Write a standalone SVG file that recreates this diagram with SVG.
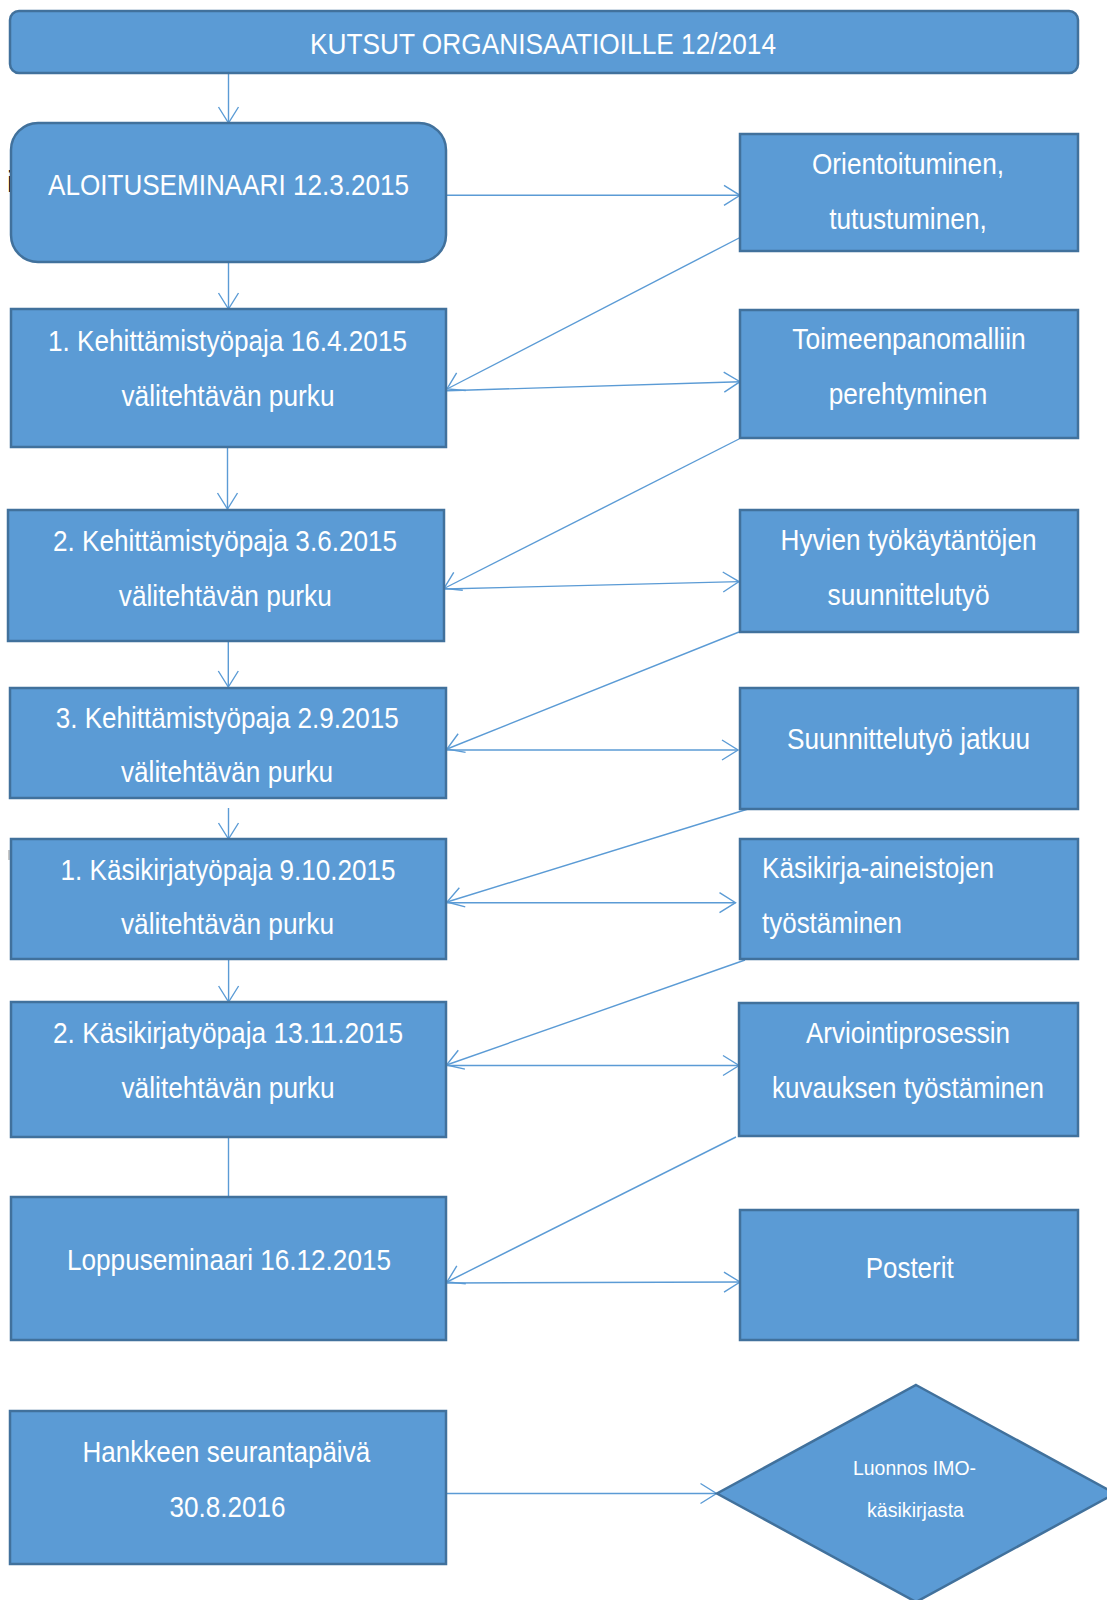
<svg xmlns="http://www.w3.org/2000/svg" width="1107" height="1600" viewBox="0 0 1107 1600">
<style>
.box{fill:#5B9BD5;stroke:#41719C;stroke-width:2.5}
.t{font-family:"Liberation Sans Narrow","Liberation Sans",Arial,sans-serif;font-size:30px;fill:#FFFFFF}
.m{text-anchor:middle}
.s{font-size:21px}
.c{fill:none;stroke:#5B9BD5;stroke-width:1.4}
</style>
<defs>
<marker id="arr" markerUnits="userSpaceOnUse" viewBox="-18 -12 20 24" refX="0" refY="0" markerWidth="20" markerHeight="24" orient="auto">
<path d="M-16,-10 L0,0 L-16,10" fill="none" stroke="#5B9BD5" stroke-width="1.4"/>
</marker>
</defs>
<rect width="1107" height="1600" fill="#FFFFFF"/>
<text x="7" y="192" style="font-family:'Liberation Sans',sans-serif;font-size:30px;fill:#000">i</text>
<rect x="8" y="850" width="3" height="10" fill="#C8C8C8"/>

<g id="connectors">
<line class="c" x1="228.5" y1="73.5" x2="228.5" y2="123" marker-end="url(#arr)"/>
<line class="c" x1="228.5" y1="262" x2="228.5" y2="309" marker-end="url(#arr)"/>
<line class="c" x1="227.5" y1="447" x2="227.5" y2="509" marker-end="url(#arr)"/>
<line class="c" x1="228.3" y1="641" x2="228.3" y2="687" marker-end="url(#arr)"/>
<line class="c" x1="228.5" y1="808" x2="228.5" y2="839" marker-end="url(#arr)"/>
<line class="c" x1="228.6" y1="959" x2="228.6" y2="1002" marker-end="url(#arr)"/>
<line class="c" x1="228.5" y1="1137" x2="228.5" y2="1197"/>
<line class="c" x1="447" y1="195.3" x2="740" y2="195.3" marker-end="url(#arr)"/>
<line class="c" x1="741" y1="237" x2="447" y2="389" marker-end="url(#arr)"/>
<line class="c" x1="447" y1="390.7" x2="740" y2="381.7" marker-end="url(#arr)"/>
<line class="c" x1="739" y1="439" x2="444" y2="588.5" marker-end="url(#arr)"/>
<line class="c" x1="444" y1="589" x2="739" y2="581.6" marker-end="url(#arr)"/>
<line class="c" x1="739" y1="632" x2="447" y2="749" marker-end="url(#arr)"/>
<line class="c" x1="447" y1="750" x2="738" y2="750" marker-end="url(#arr)"/>
<line class="c" x1="748" y1="809" x2="447" y2="902" marker-end="url(#arr)"/>
<line class="c" x1="447" y1="902.7" x2="735.5" y2="902.7" marker-end="url(#arr)"/>
<line class="c" x1="745" y1="960" x2="446.5" y2="1065" marker-end="url(#arr)"/>
<line class="c" x1="446.5" y1="1065.5" x2="739" y2="1065.5" marker-end="url(#arr)"/>
<line class="c" x1="736" y1="1137" x2="447" y2="1282" marker-end="url(#arr)"/>
<line class="c" x1="447" y1="1283" x2="740" y2="1282" marker-end="url(#arr)"/>
<line class="c" x1="446" y1="1493.5" x2="716.5" y2="1493.5" marker-end="url(#arr)"/>
</g>

<g id="kutsut">
<rect class="box" x="10" y="11" width="1068" height="62" rx="9"/>
<text class="t m" x="543" y="54" textLength="466" lengthAdjust="spacingAndGlyphs">KUTSUT ORGANISAATIOILLE 12/2014</text>
</g>
<g id="aloitusseminaari">
<rect class="box" x="11" y="123" width="435" height="139" rx="27"/>
<text class="t m" x="228.5" y="195" textLength="361" lengthAdjust="spacingAndGlyphs">ALOITUSEMINAARI 12.3.2015</text>
</g>
<g id="kehittamistyopaja1">
<rect class="box" x="11" y="309" width="435" height="138"/>
<text class="t m" x="227.5" y="351" textLength="359" lengthAdjust="spacingAndGlyphs">1. Kehittämistyöpaja 16.4.2015</text>
<text class="t m" x="228" y="406" textLength="213" lengthAdjust="spacingAndGlyphs">välitehtävän purku</text>
</g>
<g id="kehittamistyopaja2">
<rect class="box" x="8" y="510" width="436" height="131"/>
<text class="t m" x="225" y="551" textLength="344" lengthAdjust="spacingAndGlyphs">2. Kehittämistyöpaja 3.6.2015</text>
<text class="t m" x="225.3" y="606" textLength="213" lengthAdjust="spacingAndGlyphs">välitehtävän purku</text>
</g>
<g id="kehittamistyopaja3">
<rect class="box" x="10" y="688" width="436" height="110"/>
<text class="t m" x="227.3" y="728" textLength="343" lengthAdjust="spacingAndGlyphs">3. Kehittämistyöpaja 2.9.2015</text>
<text class="t m" x="227" y="782" textLength="212" lengthAdjust="spacingAndGlyphs">välitehtävän purku</text>
</g>
<g id="kasikirjatyopaja1">
<rect class="box" x="11" y="839" width="435" height="120"/>
<text class="t m" x="228" y="880" textLength="335" lengthAdjust="spacingAndGlyphs">1. Käsikirjatyöpaja 9.10.2015</text>
<text class="t m" x="227.5" y="934" textLength="213" lengthAdjust="spacingAndGlyphs">välitehtävän purku</text>
</g>
<g id="kasikirjatyopaja2">
<rect class="box" x="11" y="1002" width="435" height="135"/>
<text class="t m" x="228" y="1043" textLength="350" lengthAdjust="spacingAndGlyphs">2. Käsikirjatyöpaja 13.11.2015</text>
<text class="t m" x="228" y="1098" textLength="213" lengthAdjust="spacingAndGlyphs">välitehtävän purku</text>
</g>
<g id="loppuseminaari">
<rect class="box" x="11" y="1197" width="435" height="143"/>
<text class="t m" x="229" y="1270" textLength="324" lengthAdjust="spacingAndGlyphs">Loppuseminaari 16.12.2015</text>
</g>
<g id="seurantapaiva">
<rect class="box" x="10" y="1411" width="436" height="153"/>
<text class="t m" x="226.3" y="1462" textLength="287.6" lengthAdjust="spacingAndGlyphs">Hankkeen seurantapäivä</text>
<text class="t m" x="227.5" y="1517" textLength="116" lengthAdjust="spacingAndGlyphs">30.8.2016</text>
</g>

<g id="orientoituminen">
<rect class="box" x="740" y="134" width="338" height="117"/>
<text class="t m" x="908" y="174" textLength="192" lengthAdjust="spacingAndGlyphs">Orientoituminen,</text>
<text class="t m" x="908" y="229" textLength="157.6" lengthAdjust="spacingAndGlyphs">tutustuminen,</text>
</g>
<g id="toimeenpanomalli">
<rect class="box" x="740" y="310" width="338" height="128"/>
<text class="t m" x="909" y="349" textLength="233.5" lengthAdjust="spacingAndGlyphs">Toimeenpanomalliin</text>
<text class="t m" x="908" y="404" textLength="158.5" lengthAdjust="spacingAndGlyphs">perehtyminen</text>
</g>
<g id="hyvat-kaytannot">
<rect class="box" x="740" y="510" width="338" height="122"/>
<text class="t m" x="908.5" y="550" textLength="256" lengthAdjust="spacingAndGlyphs">Hyvien työkäytäntöjen</text>
<text class="t m" x="908.6" y="605" textLength="162" lengthAdjust="spacingAndGlyphs">suunnittelutyö</text>
</g>
<g id="suunnittelutyo">
<rect class="box" x="740" y="688" width="338" height="121"/>
<text class="t m" x="908.5" y="749" textLength="243" lengthAdjust="spacingAndGlyphs">Suunnittelutyö jatkuu</text>
</g>
<g id="kasikirja-aineistot">
<rect class="box" x="740" y="839" width="338" height="120"/>
<text class="t" x="762" y="878" textLength="232" lengthAdjust="spacingAndGlyphs">Käsikirja-aineistojen</text>
<text class="t" x="762" y="933" textLength="140" lengthAdjust="spacingAndGlyphs">työstäminen</text>
</g>
<g id="arviointiprosessi">
<rect class="box" x="739" y="1003" width="339" height="133"/>
<text class="t m" x="908" y="1043" textLength="204" lengthAdjust="spacingAndGlyphs">Arviointiprosessin</text>
<text class="t m" x="908" y="1098" textLength="272" lengthAdjust="spacingAndGlyphs">kuvauksen työstäminen</text>
</g>
<g id="posterit">
<rect class="box" x="740" y="1210" width="338" height="130"/>
<text class="t m" x="909.7" y="1278" textLength="88" lengthAdjust="spacingAndGlyphs">Posterit</text>
</g>
<g id="luonnos">
<polygon class="box" points="916,1385 1115,1493.5 916,1602 717,1493.5"/>
<text class="t m s" x="914.5" y="1475" textLength="123" lengthAdjust="spacingAndGlyphs">Luonnos IMO-</text>
<text class="t m s" x="915.5" y="1517" textLength="97" lengthAdjust="spacingAndGlyphs">käsikirjasta</text>
</g>
</svg>
